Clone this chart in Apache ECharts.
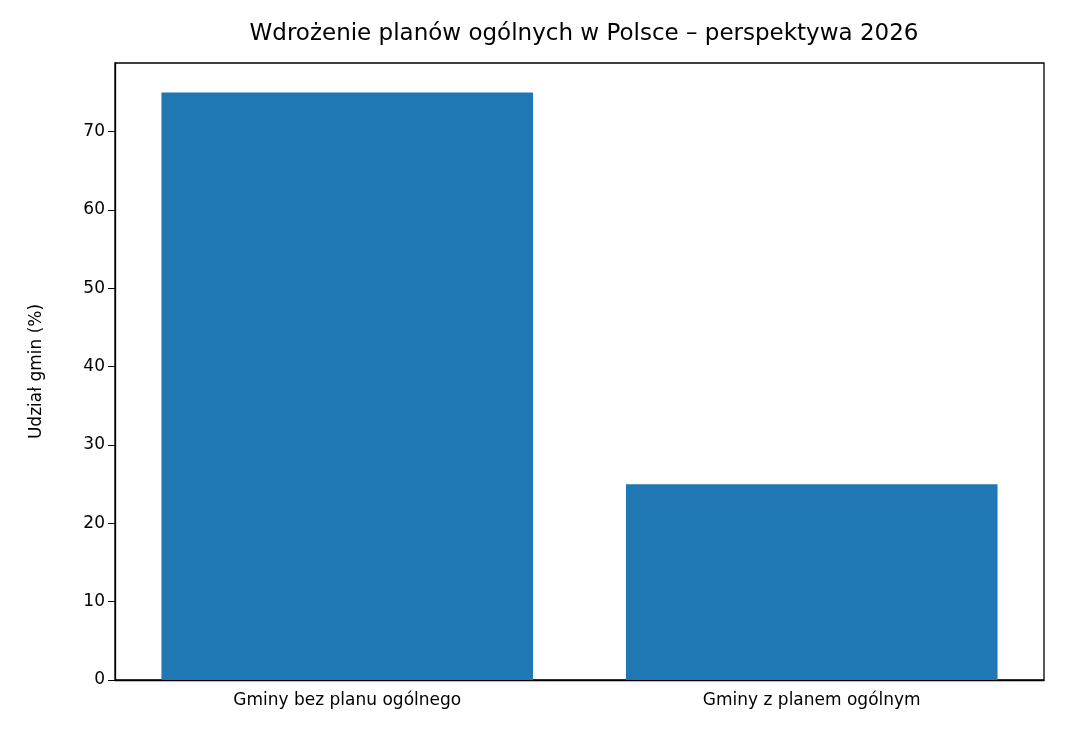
<!DOCTYPE html>
<html>
<head>
<meta charset="utf-8">
<script src="https://cdn.jsdelivr.net/npm/echarts@6/dist/echarts.min.js"></script>
<style>html,body{margin:0;padding:0;background:#fff}#chart{width:1084px;height:749px}</style>
</head>
<body>
<div id="chart"></div>
<script>
// dane
var categories = ['Gminy bez planu ogólnego', 'Gminy z planem ogólnym'];
var shares = [75, 25];
var yTicks = [0, 10, 20, 30, 40, 50, 60, 70];

var chart = echarts.init(document.getElementById('chart'));
var font = 'DejaVu Sans';
chart.setOption({
	animation: false,
	title: {
		text: 'Wdrożenie planów ogólnych w Polsce – perspektywa 2026',
		left: 579, top: 18, textAlign: 'center',
		textStyle: {fontFamily: font, fontSize: 23, fontWeight: 'normal', color: '#000'}
	},
	grid: {left: 115, right: 40, top: 63, bottom: 69, show: true, borderColor: '#000', borderWidth: 1.3},
	xAxis: {
		type: 'category', data: categories,
		axisLine: {lineStyle: {color: '#000', width: 1.3}},
		axisTick: {alignWithLabel: true, length: 7, lineStyle: {color: '#000'}},
		axisLabel: {fontFamily: font, fontSize: 17, color: '#000', margin: 12}
	},
	yAxis: {
		type: 'value', min: 0, max: 78.75, interval: 10,
		name: 'Udział gmin (%)', nameLocation: 'middle', nameGap: 70,
		nameTextStyle: {fontFamily: font, fontSize: 17, color: '#000'},
		splitLine: {show: false},
		axisLine: {show: true, lineStyle: {color: '#000', width: 1.3}},
		axisTick: {show: true, length: 7, lineStyle: {color: '#000'}},
		axisLabel: {fontFamily: font, fontSize: 17, color: '#000', margin: 10, showMaxLabel: false,
			formatter: function (v) { return yTicks.indexOf(v) >= 0 ? String(v) : ''; }}
	},
	series: [{
		type: 'bar', data: shares, barWidth: '80%',
		itemStyle: {color: '#1f77b4'}
	}]
});
</script>
</body>
</html>
